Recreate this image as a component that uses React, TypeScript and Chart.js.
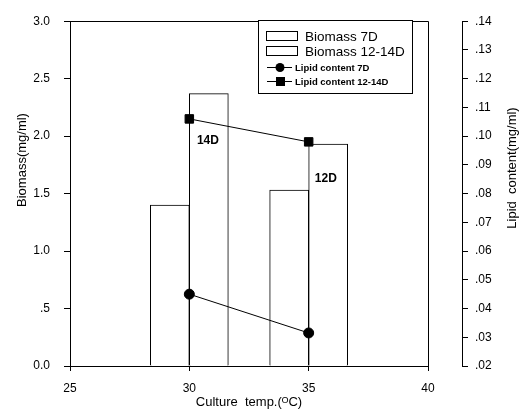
import React, { useEffect, useRef } from "react";
import { Chart, registerables } from "chart.js";

Chart.register(...registerables);

// ---- data ----
const temps = [30, 35];
const biomass7D = [1.4, 1.53];
const biomass1214D = [2.37, 1.93];
const lipid7D = [0.045, 0.0315];
const lipid1214D = [0.106, 0.098];
const seriesLabels = ["Biomass 7D", "Biomass 12-14D", "Lipid content 7D", "Lipid content 12-14D"];
const xTicks = [25, 30, 35, 40];
const biomassTicks = [0, 0.5, 1.0, 1.5, 2.0, 2.5, 3.0];
const lipidTicks = [0.02, 0.03, 0.04, 0.05, 0.06, 0.07, 0.08, 0.09, 0.1, 0.11, 0.12, 0.13, 0.14];
const annotationTexts = ["14D", "12D"];
const annotationX = [30.78, 35.72];
const annotationY = [1.96, 1.63];
const xTitle = "Culture  temp.(ᴼC)";
const yTitle = "Biomass(mg/ml)";
const y1Title = "Lipid  content(mg/ml)";

const FONT = "'Liberation Sans', Arial, Helvetica, sans-serif";
const INK = "#000000";

const framePlugin = {
  id: "frame",
  afterDatasetsDraw(chart: any) {
    const { ctx, chartArea: a } = chart;
    ctx.save();
    ctx.strokeStyle = INK;
    ctx.lineWidth = 1;
    ctx.beginPath();
    ctx.moveTo(a.left, Math.round(a.top) + 0.5);
    ctx.lineTo(Math.round(a.right) + 0.5, Math.round(a.top) + 0.5);
    ctx.lineTo(Math.round(a.right) + 0.5, a.bottom);
    ctx.stroke();
    ctx.restore();
  },
};

const titlesPlugin = {
  id: "titles",
  afterDraw(chart: any) {
    const { ctx } = chart;
    ctx.save();
    ctx.fillStyle = INK;
    ctx.font = `13px ${FONT}`;
    ctx.textAlign = "center";
    ctx.textBaseline = "middle";
    ctx.translate(22, 160);
    ctx.rotate(-Math.PI / 2);
    ctx.fillText(yTitle, 0, 0);
    ctx.restore();
    ctx.save();
    ctx.fillStyle = INK;
    ctx.font = `13px ${FONT}`;
    ctx.textAlign = "center";
    ctx.textBaseline = "middle";
    ctx.translate(512, 168);
    ctx.rotate(-Math.PI / 2);
    ctx.fillText(y1Title, 0, 0);
    ctx.restore();
    // annotations
    const xs = chart.scales.x;
    const ys = chart.scales.y;
    ctx.save();
    ctx.fillStyle = INK;
    ctx.font = `bold 12px ${FONT}`;
    ctx.textAlign = "center";
    ctx.textBaseline = "middle";
    annotationTexts.forEach((t, i) => {
      ctx.fillText(t, xs.getPixelForValue(annotationX[i]), ys.getPixelForValue(annotationY[i]));
    });
    ctx.restore();
  },
};

const legendPlugin = {
  id: "boxLegend",
  afterDraw(chart: any) {
    const { ctx } = chart;
    const left = 258.5, top = 20.5, right = 412.5, bottom = 93.5;
    ctx.save();
    ctx.fillStyle = "#ffffff";
    ctx.fillRect(left, top, right - left, bottom - top);
    ctx.strokeStyle = INK;
    ctx.lineWidth = 1;
    ctx.strokeRect(left, top, right - left, bottom - top);
    const rows = [36, 51, 67, 81];
    const ds = chart.data.datasets;
    [0, 1, 2, 3].forEach((di, r) => {
      const d = ds.find((x: any) => x.label === seriesLabels[di]);
      const y = rows[r];
      if (d.type === "bar") {
        ctx.fillStyle = "#ffffff";
        ctx.fillRect(266.5, y - 4.5, 31, 9);
        ctx.strokeStyle = INK;
        ctx.strokeRect(266.5, y - 4.5, 31, 9);
        ctx.fillStyle = INK;
        ctx.font = `13.5px ${FONT}`;
        ctx.textAlign = "left";
        ctx.textBaseline = "middle";
        ctx.fillText(d.label, 305, y + 1);
      } else {
        ctx.strokeStyle = INK;
        ctx.beginPath();
        ctx.moveTo(267, y + 0.5);
        ctx.lineTo(292, y + 0.5);
        ctx.stroke();
        ctx.fillStyle = INK;
        if (d.pointStyle === "rect") {
          ctx.fillRect(276, y - 4, 9, 9);
        } else {
          ctx.beginPath();
          ctx.arc(280, y + 0.5, 4.5, 0, Math.PI * 2);
          ctx.fill();
        }
        ctx.font = `bold 9.5px ${FONT}`;
        ctx.textAlign = "left";
        ctx.textBaseline = "middle";
        ctx.fillText(d.label, 295, y + 1);
      }
    });
    ctx.restore();
  },
};

export default function App() {
  const ref = useRef<HTMLCanvasElement | null>(null);
  useEffect(() => {
    if (!ref.current) return;
    Chart.defaults.font.family = FONT;
    Chart.defaults.color = INK;
    const chart = new Chart(ref.current, {
      type: "bar",
      data: {
        datasets: [
          {
            type: "line",
            label: seriesLabels[2],
            data: temps.map((t, i) => ({ x: t, y: lipid7D[i] })),
            yAxisID: "y1",
            borderColor: INK,
            backgroundColor: INK,
            borderWidth: 1,
            pointStyle: "circle",
            pointRadius: 5,
            tension: 0,
            order: 0,
          } as any,
          {
            type: "line",
            label: seriesLabels[3],
            data: temps.map((t, i) => ({ x: t, y: lipid1214D[i] })),
            yAxisID: "y1",
            borderColor: INK,
            backgroundColor: INK,
            borderWidth: 1,
            pointStyle: "rect",
            pointRadius: 6,
            tension: 0,
            order: 0,
          } as any,
          {
            type: "bar",
            label: seriesLabels[0],
            data: temps.map((t, i) => ({ x: t, y: biomass7D[i] })),
            yAxisID: "y",
            backgroundColor: "#ffffff",
            borderColor: INK,
            borderWidth: 1,
            barThickness: 39,
            order: 1,
          } as any,
          {
            type: "bar",
            label: seriesLabels[1],
            data: temps.map((t, i) => ({ x: t, y: biomass1214D[i] })),
            yAxisID: "y",
            backgroundColor: "#ffffff",
            borderColor: INK,
            borderWidth: 1,
            barThickness: 39,
            order: 1,
          } as any,
        ],
      },
      options: {
        animation: false,
        responsive: false,
        layout: { padding: { top: 14, left: 0, right: 0, bottom: 0 } },
        plugins: { legend: { display: false }, tooltip: { enabled: false } },
        scales: {
          x: {
            type: "linear",
            position: "bottom",
            min: 25,
            max: 40,
            offset: false,
            afterBuildTicks: (s: any) => {
              s.ticks = xTicks.map((v) => ({ value: v }));
            },
            afterFit: (s: any) => {
              s.height = 53;
            },
            ticks: { padding: 10, font: { size: 12 }, color: INK, callback: (v: any) => String(v) },
            grid: { display: true, drawOnChartArea: false, drawTicks: true, tickLength: 5, color: INK, offset: false },
            border: { display: true, color: INK, width: 1 },
            title: { display: true, text: xTitle, font: { size: 13, lineHeight: 1.2 }, color: INK, padding: { top: 0, bottom: 9 } },
          },
          y: {
            type: "linear",
            position: "left",
            min: 0,
            max: 3,
            afterBuildTicks: (s: any) => {
              s.ticks = biomassTicks.map((v) => ({ value: v }));
            },
            afterFit: (s: any) => {
              s.width = 70;
            },
            ticks: {
              padding: 14,
              font: { size: 12 },
              color: INK,
              callback: (v: any) => {
                const s = Number(v).toFixed(1);
                return v > 0 && v < 1 ? s.slice(1) : s;
              },
            },
            grid: { display: true, drawOnChartArea: false, drawTicks: true, tickLength: 6, color: INK },
            border: { display: true, color: INK, width: 1 },
            title: { display: false },
          },
          gap: {
            type: "linear",
            position: "right",
            weight: 0,
            display: true,
            afterFit: (s: any) => {
              s.width = 34;
            },
            ticks: { display: false },
            grid: { display: false, drawTicks: false },
            border: { display: false },
          },
          y1: {
            type: "linear",
            position: "right",
            weight: 1,
            min: 0.02,
            max: 0.14,
            afterBuildTicks: (s: any) => {
              s.ticks = lipidTicks.map((v) => ({ value: v }));
            },
            afterFit: (s: any) => {
              s.width = 67;
            },
            ticks: {
              padding: 7,
              font: { size: 12 },
              color: INK,
              callback: (v: any) => Number(v).toFixed(2).slice(1),
            },
            grid: { display: true, drawOnChartArea: false, drawTicks: true, tickLength: 6, color: INK },
            border: { display: true, color: INK, width: 1 },
            title: { display: false },
          },
        } as any,
      },
      plugins: [framePlugin, titlesPlugin, legendPlugin],
    });
    return () => chart.destroy();
  }, []);
  return (
    <div style={{ position: "fixed", left: 0, top: 0, width: 529, height: 419, background: "#fff" }}>
      <canvas ref={ref} width={529} height={419} style={{ width: 529, height: 419, display: "block" }} />
    </div>
  );
}
